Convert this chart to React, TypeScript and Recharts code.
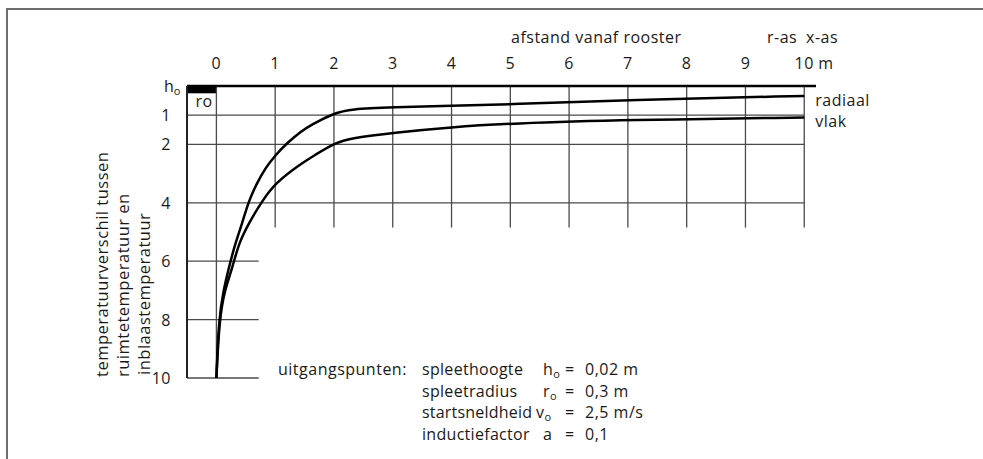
import { LineChart, Line, XAxis, YAxis, ReferenceLine, ReferenceArea } from 'recharts';

// afstand vanaf rooster (m) -> temperatuurverschil
const radiaalX = [0, 0.04, 0.12, 0.21, 0.32, 0.44, 0.55, 0.69, 0.83, 1.0, 1.2, 1.46, 1.6, 2.0, 2.28, 3.0, 4.0, 5.0, 7.0, 10.0];
const radiaalY = [10, 8.0, 7.0, 6.24, 5.39, 4.7, 3.93, 3.33, 2.82, 2.38, 1.95, 1.53, 1.34, 0.93, 0.79, 0.73, 0.67, 0.63, 0.48, 0.34];

const vlakX = [0, 0.05, 0.14, 0.27, 0.38, 0.55, 0.78, 1.0, 1.4, 1.68, 2.0, 2.3, 3.0, 4.0, 5.0, 7.0, 10.0];
const vlakY = [10, 8.0, 7.0, 6.24, 5.39, 4.7, 3.93, 3.33, 2.71, 2.36, 1.96, 1.78, 1.6, 1.41, 1.28, 1.16, 1.08];

const xTicks = [0, 1, 2, 3, 4, 5, 6, 7, 8, 9, 10];
const yTicks = [0, 1, 2, 4, 6, 8, 10];
const longRows = [1, 2, 4];
const shortRows = [6, 8, 10];

const radiaal = radiaalX.map((x, i) => ({ x, y: radiaalY[i] }));
const vlak = vlakX.map((x, i) => ({ x, y: vlakY[i] }));

const font = '"Open Sans", sans-serif';
const ink = '#1a1a1a';
const grid = '#4a4a4a';
const ls = 0.5;

const XTick = ({ x, y, payload }: any) => (
  <g>
    <text x={x} y={y} dy={-17} textAnchor="middle" fontFamily={font} fontSize={16} fill={ink} letterSpacing={ls}>
      {payload.value}
    </text>
    {payload.value === 10 && (
      <text x={x + 14} y={y} dy={-17} fontFamily={font} fontSize={16} fill={ink}>
        m
      </text>
    )}
  </g>
);

const YTick = ({ x, y, payload }: any) =>
  payload.value === 0 ? (
    <text x={x - 23} y={y} dy={6} fontFamily={font} fontSize={16} fill={ink}>
      h<tspan fontSize={11} dy={3}>o</tspan>
    </text>
  ) : (
    <text x={x - 16} y={y} dy={6} textAnchor="end" fontFamily={font} fontSize={16} fill={ink} letterSpacing={ls}>
      {payload.value}
    </text>
  );

const endLabel = (text: string, count: number, dy: number) => (props: any) =>
  props.index === count - 1 ? (
    <text x={props.x + 11} y={props.y} dy={dy} fontFamily={font} fontSize={16} fill={ink} letterSpacing={ls}>
      {text}
    </text>
  ) : null;

const Sub = ({ c }: { c: string }) => (
  <tspan fontSize={11} dy={3}>
    {c}
  </tspan>
);

export default function App() {
  return (
    <div style={{ position: 'relative', width: 983, height: 459, background: '#fff' }}>
      <style>{`body{margin:0}`}</style>
      <div
        style={{
          position: 'absolute',
          left: 6,
          top: 8,
          width: 983,
          height: 459,
          borderTop: '2px solid #6e6e6e',
          borderLeft: '2px solid #6e6e6e',
        }}
      />
      <div style={{ position: 'absolute', left: 0, top: 0 }}>
        <LineChart width={983} height={459} margin={{ top: 56, right: 167, bottom: 81, left: 157 }}>
          <XAxis
            type="number"
            dataKey="x"
            orientation="top"
            domain={[-0.5, 10.2]}
            ticks={xTicks}
            allowDataOverflow
            height={30}
            axisLine={false}
            tickLine={false}
            tickSize={0}
            tickMargin={0}
            tick={XTick}
            interval={0}
          />
          <YAxis
            type="number"
            dataKey="y"
            domain={[0, 10]}
            reversed
            ticks={yTicks}
            allowDataOverflow
            width={30}
            axisLine={false}
            tickLine={false}
            tickSize={0}
            tickMargin={0}
            tick={YTick}
            interval={0}
          />

          {longRows.map((r) => (
            <ReferenceLine key={'l' + r} segment={[{ x: -0.5, y: r }, { x: 10, y: r }]} stroke={grid} strokeWidth={1.3} ifOverflow="visible" />
          ))}
          {shortRows.map((r) => (
            <ReferenceLine key={'s' + r} segment={[{ x: -0.5, y: r }, { x: 0.72, y: r }]} stroke={grid} strokeWidth={1.3} ifOverflow="visible" />
          ))}
          {xTicks.map((c) => (
            <ReferenceLine
              key={'c' + c}
              segment={[{ x: c, y: 0 }, { x: c, y: c === 0 ? 10 : 4.85 }]}
              stroke={grid}
              strokeWidth={1.3}
              ifOverflow="visible"
            />
          ))}

          <ReferenceArea x1={-0.5} x2={0} y1={0} y2={0.25} fill="#000" fillOpacity={1} stroke="none" ifOverflow="visible" />
          <ReferenceLine segment={[{ x: -0.5, y: 0 }, { x: 10.2, y: 0 }]} stroke="#000" strokeWidth={2.5} ifOverflow="visible" />
          <ReferenceLine segment={[{ x: -0.5, y: 0 }, { x: -0.5, y: 10 }]} stroke="#222" strokeWidth={2} ifOverflow="visible" />

          <Line
            data={radiaal}
            dataKey="y"
            type="basis"
            stroke="#000"
            strokeWidth={2.5}
            dot={false}
            isAnimationActive={false}
            label={endLabel('radiaal', radiaal.length, 10)}
          />
          <Line
            data={vlak}
            dataKey="y"
            type="basis"
            stroke="#000"
            strokeWidth={2.5}
            dot={false}
            isAnimationActive={false}
            label={endLabel('vlak', vlak.length, 9)}
          />
        </LineChart>
      </div>

      <svg
        width={983}
        height={459}
        style={{ position: 'absolute', left: 0, top: 0, pointerEvents: 'none' }}
        fontFamily={font}
        fontSize={16}
        fill={ink}
        letterSpacing={ls}
      >
        <text x={511} y={43}>afstand vanaf rooster</text>
        <text x={767} y={43}>r-as</text>
        <text x={806} y={43}>x-as</text>
        <text x={204} y={107} textAnchor="middle">ro</text>

        <g fontSize={16.5}>
          <text transform="translate(108,377) rotate(-90)">temperatuurverschil tussen</text>
          <text transform="translate(129,377) rotate(-90)">ruimtetemperatuur en</text>
          <text transform="translate(150,375) rotate(-90)">inblaastemperatuur</text>
        </g>

        <text x={278} y={375}>uitgangspunten:</text>
        <text x={422} y={375} letterSpacing={0.3}>spleethoogte</text>
        <text x={422} y={397} letterSpacing={0.3}>spleetradius</text>
        <text x={422} y={418} letterSpacing={0.2}>startsneldheid</text>
        <text x={422} y={440} letterSpacing={0.3}>inductiefactor</text>

        <text x={543} y={375}>h<Sub c="o" /></text>
        <text x={543} y={397}>r<Sub c="o" /></text>
        <text x={536} y={418}>v<Sub c="o" /></text>
        <text x={543} y={440}>a</text>

        <text x={565} y={375}>=</text>
        <text x={565} y={397}>=</text>
        <text x={565} y={418}>=</text>
        <text x={565} y={440}>=</text>

        <text x={585} y={375}>0,02 m</text>
        <text x={585} y={397}>0,3 m</text>
        <text x={585} y={418}>2,5 m/s</text>
        <text x={585} y={440}>0,1</text>
      </svg>
    </div>
  );
}
